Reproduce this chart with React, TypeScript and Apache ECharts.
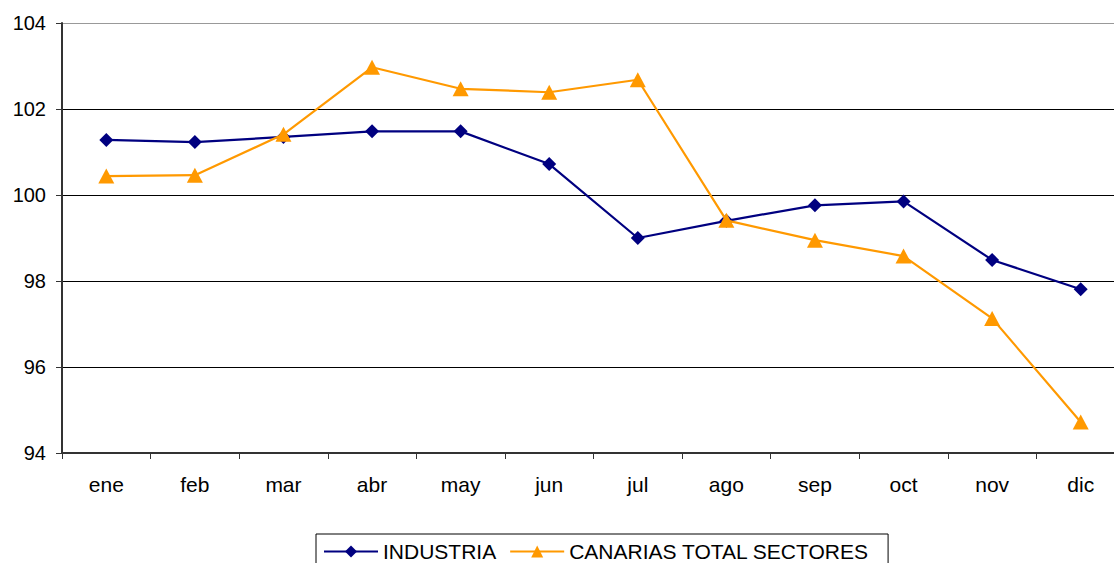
import React, { useEffect, useRef } from "react";
import * as echarts from "echarts";

const months = ["ene", "feb", "mar", "abr", "may", "jun", "jul", "ago", "sep", "oct", "nov", "dic"];
const industria = [101.28, 101.23, 101.35, 101.48, 101.48, 100.72, 99.0, 99.4, 99.76, 99.85, 98.49, 97.81];
const canarias = [100.44, 100.46, 101.41, 102.97, 102.47, 102.39, 102.68, 99.41, 98.95, 98.58, 97.13, 94.72];
const yMin = 94;
const yMax = 104;
const yStep = 2;

const FONT = "'Liberation Sans', Arial, sans-serif";

export default function App() {
  const ref = useRef<HTMLDivElement>(null);
  useEffect(() => {
    if (!ref.current) return;
    const chart = echarts.init(ref.current, null, { renderer: "svg" });
    chart.setOption({
      animation: false,
      backgroundColor: "#ffffff",
      textStyle: { fontFamily: FONT, color: "#000" },
      grid: { left: 62, top: 23, right: 5, bottom: 110, containLabel: false },
      legend: {
        left: 316,
        top: 534,
        orient: "horizontal",
        borderColor: "#000",
        borderWidth: 1,
        padding: [7, 19, 8, 7],
        itemWidth: 54,
        itemHeight: 15,
        itemGap: 13,
        textStyle: { fontFamily: FONT, fontSize: 21, lineHeight: 19, color: "#000" },
        data: ["INDUSTRIA", "CANARIAS TOTAL SECTORES"],
      },
      xAxis: {
        type: "category",
        data: months,
        boundaryGap: true,
        axisLine: { show: true, lineStyle: { color: "#333", width: 2 } },
        axisTick: { show: true, alignWithLabel: false, length: 6, lineStyle: { color: "#333", width: 1 } },
        axisLabel: { fontSize: 21, color: "#000", margin: 21, fontFamily: FONT },
        splitLine: { show: false },
      },
      yAxis: {
        type: "value",
        min: yMin,
        max: yMax,
        interval: yStep,
        axisLine: { show: true, lineStyle: { color: "#333", width: 2 } },
        axisTick: { show: true, length: 6, lineStyle: { color: "#333", width: 1 } },
        axisLabel: { fontSize: 20, color: "#000", margin: 16, fontFamily: FONT },
        splitLine: {
          show: true,
          lineStyle: { color: ["#333", "#000", "#000", "#000", "#000", "#999"], width: 1 },
        },
      },
      series: [
        {
          name: "INDUSTRIA",
          type: "line",
          data: industria,
          symbol: "diamond",
          symbolSize: 14,
          showAllSymbol: true,
          lineStyle: { color: "#000080", width: 2.2 },
          itemStyle: { color: "#000080" },
          z: 3,
        },
        {
          name: "CANARIAS TOTAL SECTORES",
          type: "line",
          data: canarias,
          symbol: "triangle",
          symbolSize: [16, 15],
          showAllSymbol: true,
          lineStyle: { color: "#FF9900", width: 2.2 },
          itemStyle: { color: "#FF9900" },
          z: 4,
        },
      ],
    });
    return () => chart.dispose();
  }, []);
  return (
    <div
      style={{ position: "absolute", left: 0, top: 0, width: 1114, height: 563, overflow: "hidden", background: "#fff" }}
    >
      <div ref={ref} style={{ width: 1130, height: 563 }} />
    </div>
  );
}
